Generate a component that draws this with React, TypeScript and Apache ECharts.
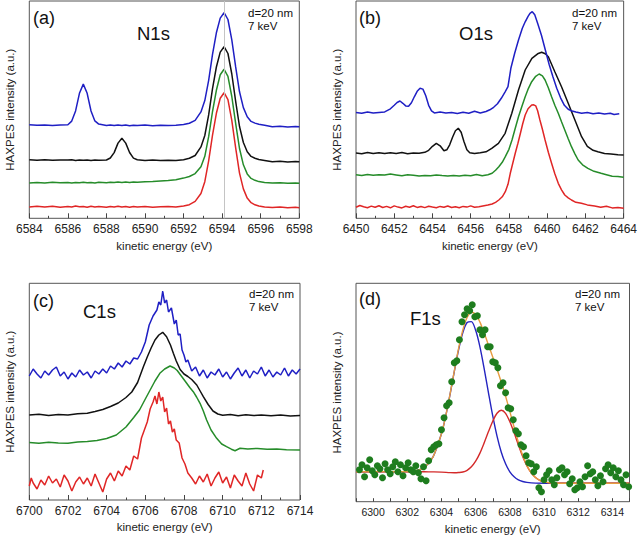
import React, { useEffect, useRef } from "react";
import * as echarts from "echarts";

// ---------- (a) N1s ----------
const n1sBlue: [number, number][] = [
  [6584.0, 93.6], [6584.4, 93.0], [6584.8, 93.4], [6585.2, 92.8], [6585.6, 93.3], [6586.0, 93.5],
  [6586.2, 97.2], [6586.4, 107.4], [6586.6, 125.0], [6586.8, 134.2], [6587.0, 125.0], [6587.2, 107.3],
  [6587.4, 97.4], [6587.6, 94.2], [6588.0, 92.9], [6588.2, 93.4], [6588.4, 92.7], [6588.6, 93.2],
  [6588.8, 92.9], [6589.0, 93.3], [6589.2, 92.6], [6589.4, 93.1], [6589.6, 92.8], [6590.0, 93.2],
  [6590.4, 92.6], [6590.8, 93.0], [6591.2, 92.7], [6591.6, 93.1], [6592.0, 93.7], [6592.3, 95.1],
  [6592.6, 97.9], [6592.9, 106.4], [6593.1, 117.7], [6593.3, 138.0], [6593.5, 164.0], [6593.7, 185.5],
  [6593.9, 200.2], [6594.1, 205.6], [6594.3, 198.8], [6594.5, 178.5], [6594.7, 151.4], [6594.9, 126.5],
  [6595.1, 110.7], [6595.3, 101.6], [6595.5, 96.9], [6595.7, 95.2], [6595.9, 94.0], [6596.2, 93.1],
  [6596.6, 91.6], [6597.0, 92.1], [6597.4, 91.4], [6597.8, 91.9], [6598.0, 91.5],
];
const n1sBlack: [number, number][] = [
  [6584.0, 58.5], [6584.4, 58.1], [6584.8, 58.6], [6585.2, 58.0], [6585.6, 58.4], [6586.0, 58.2],
  [6586.2, 58.5], [6586.4, 57.9], [6586.6, 58.3], [6586.8, 58.0], [6587.0, 58.4], [6587.2, 57.8],
  [6587.4, 58.2], [6587.6, 58.0], [6588.0, 58.3], [6588.2, 60.3], [6588.4, 65.7], [6588.6, 75.2],
  [6588.8, 80.0], [6589.0, 75.2], [6589.2, 65.8], [6589.4, 60.2], [6589.6, 58.6], [6590.0, 57.9],
  [6590.4, 58.2], [6590.8, 57.7], [6591.2, 58.1], [6591.6, 57.8], [6592.0, 58.6], [6592.3, 60.0],
  [6592.6, 62.8], [6592.9, 71.4], [6593.1, 82.8], [6593.3, 103.4], [6593.5, 129.6], [6593.7, 151.3],
  [6593.9, 166.2], [6594.1, 171.6], [6594.3, 164.8], [6594.5, 144.3], [6594.7, 116.9], [6594.9, 91.8],
  [6595.1, 75.8], [6595.3, 66.5], [6595.5, 61.9], [6595.7, 60.1], [6595.9, 58.8], [6596.2, 57.9],
  [6596.6, 56.5], [6597.0, 57.0], [6597.4, 56.4], [6597.8, 56.8], [6598.0, 56.5],
];
const n1sGreen: [number, number][] = [
  [6584.0, 35.3], [6584.4, 35.9], [6584.8, 35.4], [6585.2, 36.0], [6585.6, 35.5], [6586.0, 35.8],
  [6586.2, 35.3], [6586.4, 35.9], [6586.6, 35.6], [6586.8, 36.1], [6587.0, 35.5], [6587.2, 35.9],
  [6587.4, 35.4], [6587.6, 36.0], [6588.0, 35.6], [6588.2, 36.1], [6588.4, 35.7], [6588.6, 36.2],
  [6588.8, 35.8], [6589.0, 36.3], [6589.2, 35.9], [6589.4, 36.4], [6589.6, 36.1], [6590.0, 36.6],
  [6590.4, 36.9], [6590.8, 37.4], [6591.2, 37.8], [6591.6, 38.6], [6592.0, 40.2], [6592.3, 41.8],
  [6592.6, 44.7], [6592.9, 51.6], [6593.1, 62.0], [6593.3, 81.6], [6593.5, 106.8], [6593.7, 128.0],
  [6593.9, 143.5], [6594.1, 149.0], [6594.3, 142.0], [6594.5, 121.8], [6594.7, 94.9], [6594.9, 69.8],
  [6595.1, 53.5], [6595.3, 44.4], [6595.5, 39.9], [6595.7, 38.0], [6595.9, 36.7], [6596.2, 35.9],
  [6596.6, 35.2], [6597.0, 35.6], [6597.4, 35.0], [6597.8, 35.4], [6598.0, 35.0],
];
const n1sRed: [number, number][] = [
  [6584.0, 11.2], [6584.4, 12.1], [6584.8, 11.4], [6585.2, 12.0], [6585.6, 11.0], [6586.0, 11.9],
  [6586.2, 11.3], [6586.4, 12.2], [6586.6, 11.5], [6586.8, 11.9], [6587.0, 11.1], [6587.2, 12.0],
  [6587.4, 11.4], [6587.6, 11.8], [6588.0, 11.0], [6588.2, 11.9], [6588.4, 11.3], [6588.6, 12.1],
  [6588.8, 11.2], [6589.0, 11.7], [6589.2, 11.0], [6589.4, 11.8], [6589.6, 11.3], [6590.0, 11.9],
  [6590.4, 11.1], [6590.8, 11.6], [6591.2, 11.9], [6591.6, 11.4], [6592.0, 12.4], [6592.3, 13.6],
  [6592.6, 16.9], [6592.9, 24.8], [6593.1, 36.6], [6593.3, 57.5], [6593.5, 83.2], [6593.7, 105.0],
  [6593.9, 120.1], [6594.1, 125.6], [6594.3, 118.6], [6594.5, 98.0], [6594.7, 70.4], [6594.9, 45.2],
  [6595.1, 29.4], [6595.3, 20.2], [6595.5, 15.6], [6595.7, 13.5], [6595.9, 12.3], [6596.2, 11.2],
  [6596.6, 10.9], [6597.0, 11.4], [6597.4, 10.5], [6597.8, 11.0], [6598.0, 10.6],
];
const n1sMarker = 6594.1;

// ---------- (b) O1s ----------
const o1sBlue: [number, number][] = [
  [6450.0, 105.8], [6450.3, 105.0], [6450.6, 106.2], [6450.9, 105.3], [6451.2, 105.9], [6451.5, 106.4],
  [6451.8, 109.5], [6452.0, 113.0], [6452.15, 115.8], [6452.3, 117.3], [6452.45, 115.0], [6452.6, 112.4],
  [6452.75, 112.0], [6452.9, 115.5], [6453.05, 121.5], [6453.2, 127.0], [6453.35, 130.0], [6453.5, 129.2],
  [6453.65, 122.5], [6453.8, 113.0], [6453.95, 107.5], [6454.1, 105.4], [6454.4, 106.3], [6454.7, 105.2],
  [6455.0, 105.9], [6455.3, 104.8], [6455.6, 106.0], [6455.9, 105.1], [6456.2, 107.0], [6456.5, 105.3],
  [6456.8, 106.8], [6457.0, 108.5], [6457.2, 111.0], [6457.4, 114.5], [6457.6, 120.0], [6457.8, 126.5],
  [6457.95, 131.6], [6458.1, 150.0], [6458.3, 165.0], [6458.5, 178.3], [6458.7, 190.0], [6458.85, 196.5],
  [6459.0, 202.0], [6459.1, 205.0], [6459.22, 206.6], [6459.35, 203.5], [6459.5, 195.0], [6459.7, 183.0],
  [6459.9, 168.5], [6460.1, 154.0], [6460.3, 141.5], [6460.5, 130.0], [6460.7, 120.5], [6460.9, 113.0],
  [6461.1, 109.0], [6461.3, 107.2], [6461.5, 106.3], [6461.8, 105.0], [6462.1, 105.8], [6462.4, 104.6],
  [6462.7, 105.4], [6463.0, 104.3], [6463.3, 105.0], [6463.5, 103.8], [6463.77, 104.5],
];
const o1sBlack: [number, number][] = [
  [6450.0, 65.3], [6450.3, 64.6], [6450.6, 65.8], [6450.9, 64.8], [6451.2, 65.5], [6451.5, 64.7],
  [6451.8, 65.6], [6452.1, 64.9], [6452.4, 65.7], [6452.7, 64.6], [6453.0, 65.4], [6453.3, 65.0],
  [6453.6, 66.0], [6453.8, 68.0], [6454.0, 72.0], [6454.2, 75.0], [6454.4, 72.5], [6454.6, 67.5],
  [6454.75, 68.5], [6454.9, 73.5], [6455.05, 81.0], [6455.2, 87.5], [6455.35, 90.0], [6455.5, 86.0],
  [6455.65, 76.5], [6455.8, 68.5], [6455.95, 65.5], [6456.2, 64.8], [6456.5, 65.6], [6456.8, 66.5],
  [6457.1, 70.0], [6457.45, 75.0], [6457.8, 85.0], [6458.15, 105.0], [6458.5, 128.3], [6458.85, 148.3],
  [6459.2, 160.0], [6459.5, 164.5], [6459.71, 166.0], [6459.9, 164.5], [6460.06, 161.6], [6460.4, 146.6],
  [6460.75, 131.6], [6461.1, 115.0], [6461.45, 98.3], [6461.8, 81.6], [6462.1, 72.0], [6462.4, 68.0],
  [6462.65, 66.6], [6463.0, 64.8], [6463.34, 64.3], [6463.7, 63.6], [6464.0, 63.3],
];
const o1sGreen: [number, number][] = [
  [6450.0, 43.5], [6450.3, 42.8], [6450.6, 43.9], [6450.9, 43.0], [6451.2, 43.6], [6451.5, 43.2],
  [6451.8, 44.2], [6452.1, 43.4], [6452.4, 42.6], [6452.7, 43.5], [6453.0, 43.0], [6453.3, 42.2],
  [6453.6, 42.9], [6453.9, 42.5], [6454.2, 43.3], [6454.5, 42.7], [6454.8, 42.2], [6455.1, 42.9],
  [6455.4, 42.4], [6455.7, 43.1], [6456.0, 42.6], [6456.3, 43.8], [6456.6, 42.5], [6456.9, 43.5],
  [6457.12, 45.0], [6457.3, 48.0], [6457.47, 51.6], [6457.65, 56.0], [6457.81, 61.6], [6458.0, 69.0],
  [6458.16, 78.3], [6458.33, 90.0], [6458.5, 101.6], [6458.68, 112.0], [6458.85, 121.6], [6459.02, 130.0],
  [6459.19, 136.6], [6459.4, 142.0], [6459.58, 144.3], [6459.75, 142.5], [6459.89, 138.3], [6460.06, 130.5],
  [6460.23, 121.6], [6460.4, 113.0], [6460.58, 105.0], [6460.75, 96.5], [6460.92, 88.3], [6461.1, 79.5],
  [6461.27, 71.6], [6461.45, 64.5], [6461.62, 58.3], [6461.85, 53.5], [6462.13, 50.0], [6462.45, 47.0],
  [6462.82, 45.0], [6463.1, 43.6], [6463.4, 42.0], [6463.7, 41.8], [6464.0, 41.0],
];
const o1sRed: [number, number][] = [
  [6450.0, 11.0], [6450.2, 12.8], [6450.4, 11.5], [6450.6, 10.6], [6450.8, 12.2], [6451.0, 11.0],
  [6451.2, 12.6], [6451.4, 10.8], [6451.6, 11.9], [6451.8, 10.5], [6452.0, 12.4], [6452.2, 11.2],
  [6452.4, 10.4], [6452.6, 12.0], [6452.8, 11.1], [6453.0, 12.5], [6453.2, 10.9], [6453.4, 11.8],
  [6453.6, 10.7], [6453.8, 12.1], [6454.0, 11.3], [6454.2, 10.6], [6454.4, 11.9], [6454.6, 11.0],
  [6454.8, 12.3], [6455.0, 10.8], [6455.2, 11.6], [6455.4, 10.5], [6455.6, 11.9], [6455.8, 11.2],
  [6456.0, 12.4], [6456.2, 11.0], [6456.43, 11.6], [6456.7, 12.6], [6456.9, 13.2], [6457.12, 14.3],
  [6457.3, 16.0], [6457.47, 18.3], [6457.65, 21.5], [6457.81, 26.6], [6457.95, 34.0], [6458.07, 45.0],
  [6458.2, 55.0], [6458.33, 65.0], [6458.47, 75.0], [6458.6, 85.0], [6458.72, 94.5], [6458.85, 103.3],
  [6459.0, 109.5], [6459.19, 113.3], [6459.3, 113.5], [6459.4, 112.5], [6459.5, 107.5], [6459.62, 98.3],
  [6459.75, 89.0], [6459.89, 78.3], [6460.06, 66.0], [6460.23, 55.0], [6460.4, 44.5], [6460.58, 35.0],
  [6460.75, 28.5], [6460.92, 23.3], [6461.1, 20.5], [6461.27, 18.3], [6461.5, 16.0], [6461.79, 15.0],
  [6462.1, 13.4], [6462.48, 12.3], [6462.8, 11.0], [6463.1, 12.1], [6463.4, 10.4], [6463.7, 10.9],
  [6464.0, 10.0],
];

// ---------- (c) C1s ----------
const c1sBlue: [number, number][] = [
  [6700.0, 124], [6700.2, 131], [6700.4, 126], [6700.6, 122], [6700.8, 129], [6701.0, 125],
  [6701.2, 130], [6701.4, 133], [6701.6, 124], [6701.8, 128], [6702.0, 121], [6702.2, 127],
  [6702.4, 123], [6702.6, 130], [6702.8, 125], [6703.0, 128], [6703.2, 122], [6703.4, 129],
  [6703.6, 126], [6703.8, 131], [6704.0, 127], [6704.2, 134], [6704.4, 131], [6704.6, 137],
  [6704.8, 133], [6705.0, 139], [6705.2, 136], [6705.4, 142], [6705.6, 141], [6705.8, 148],
  [6706.0, 158], [6706.2, 175], [6706.4, 184], [6706.6, 190], [6706.7, 198], [6706.8, 195],
  [6706.9, 209], [6707.0, 197], [6707.1, 200], [6707.2, 188], [6707.35, 192], [6707.5, 176],
  [6707.6, 180], [6707.7, 165], [6707.8, 166], [6707.9, 150], [6708.0, 145], [6708.1, 138],
  [6708.2, 140], [6708.4, 129], [6708.6, 133], [6708.8, 124], [6709.0, 130], [6709.2, 122],
  [6709.4, 128], [6709.6, 125], [6709.8, 131], [6710.0, 123], [6710.2, 128], [6710.4, 121],
  [6710.6, 127], [6710.8, 132], [6711.0, 124], [6711.2, 130], [6711.4, 122], [6711.6, 129],
  [6711.8, 126], [6712.0, 133], [6712.2, 124], [6712.4, 130], [6712.6, 123], [6712.8, 128],
  [6713.0, 125], [6713.2, 132], [6713.4, 124], [6713.6, 130], [6713.8, 126], [6714.0, 131],
];
const c1sBlack: [number, number][] = [
  [6700.0, 85.0], [6700.5, 85.8], [6701.0, 84.6], [6701.5, 85.4], [6702.0, 85.0], [6702.5, 86.2],
  [6703.0, 86.8], [6703.4, 88.5], [6703.8, 90.5], [6704.2, 93.5], [6704.6, 97.0], [6705.0, 102.5],
  [6705.3, 108.0], [6705.6, 117.5], [6705.9, 133.3], [6706.1, 143.0], [6706.3, 152.0], [6706.5, 160.0],
  [6706.7, 165.0], [6706.9, 167.7], [6707.1, 163.3], [6707.3, 155.0], [6707.45, 146.7], [6707.6, 139.0],
  [6707.8, 130.5], [6708.0, 126.0], [6708.2, 123.5], [6708.4, 120.5], [6708.66, 115.0], [6708.85, 108.5],
  [6709.0, 103.3], [6709.25, 95.5], [6709.5, 89.0], [6709.75, 86.0], [6710.0, 84.8], [6710.4, 85.5],
  [6710.8, 84.3], [6711.2, 85.2], [6711.6, 84.4], [6712.0, 85.0], [6712.5, 84.2], [6713.0, 84.9],
  [6713.5, 84.1], [6714.0, 84.5],
];
const c1sGreen: [number, number][] = [
  [6700.0, 57.5], [6700.5, 56.8], [6701.0, 57.8], [6701.5, 57.0], [6702.0, 56.8], [6702.5, 58.0],
  [6703.0, 58.6], [6703.5, 59.5], [6704.0, 61.5], [6704.5, 65.0], [6705.0, 73.0], [6705.4, 82.5],
  [6705.7, 90.0], [6706.0, 101.0], [6706.25, 110.0], [6706.5, 119.0], [6706.75, 126.7], [6707.0, 131.0],
  [6707.28, 134.0], [6707.5, 132.0], [6707.65, 129.5], [6707.9, 123.0], [6708.14, 116.7], [6708.3, 112.5],
  [6708.48, 108.3], [6708.65, 103.0], [6708.83, 96.7], [6709.0, 89.0], [6709.17, 80.0], [6709.4, 70.0],
  [6709.69, 61.7], [6709.95, 56.0], [6710.2, 53.3], [6710.45, 50.8], [6710.64, 49.3], [6710.9, 51.7],
  [6711.3, 51.0], [6711.8, 51.6], [6712.3, 50.8], [6712.8, 50.9], [6713.3, 50.3], [6714.0, 50.0],
];
const c1sRed: [number, number][] = [
  [6700.0, 14], [6700.1, 22], [6700.2, 17], [6700.4, 11], [6700.6, 20], [6700.8, 15],
  [6701.0, 24], [6701.2, 17], [6701.4, 21], [6701.6, 13], [6701.8, 25], [6702.0, 19],
  [6702.2, 9], [6702.4, 18], [6702.6, 23], [6702.8, 16], [6703.0, 22], [6703.2, 14],
  [6703.4, 26], [6703.6, 17], [6703.8, 8], [6704.0, 21], [6704.2, 27], [6704.4, 19],
  [6704.6, 29], [6704.8, 24], [6705.0, 34], [6705.2, 30], [6705.4, 44], [6705.6, 41],
  [6705.8, 62], [6705.95, 70], [6706.1, 78], [6706.25, 91], [6706.4, 98], [6706.5, 104],
  [6706.6, 96], [6706.7, 108], [6706.8, 99], [6706.9, 103], [6707.0, 88], [6707.1, 92],
  [6707.2, 76], [6707.3, 79], [6707.4, 68], [6707.5, 71], [6707.6, 60], [6707.75, 57],
  [6707.9, 42], [6708.05, 36], [6708.2, 27], [6708.4, 22], [6708.6, 16], [6708.8, 24],
  [6709.0, 18], [6709.2, 26], [6709.4, 14], [6709.6, 22], [6709.8, 28], [6710.0, 17],
  [6710.2, 23], [6710.4, 12], [6710.6, 25], [6710.8, 19], [6711.0, 14], [6711.2, 27],
  [6711.4, 16], [6711.6, 9], [6711.8, 25], [6712.0, 22], [6712.1, 30],
];

// ---------- (d) F1s ----------
const f1sData: [number, number][] = [
  [6299.2, 32], [6299.35, 37], [6299.5, 25], [6299.65, 34], [6299.8, 42], [6299.95, 31],
  [6300.1, 27], [6300.25, 36], [6300.4, 33], [6300.55, 24], [6300.7, 38], [6300.85, 32],
  [6301.0, 28], [6301.15, 35], [6301.3, 40], [6301.45, 30], [6301.6, 37], [6301.75, 26],
  [6301.9, 34], [6302.05, 39], [6302.2, 32], [6302.35, 30], [6302.5, 36], [6302.65, 29],
  [6302.8, 23], [6302.95, 35], [6303.1, 21], [6303.25, 41], [6303.4, 52], [6303.55, 55],
  [6303.7, 57], [6303.85, 58], [6304.0, 72], [6304.15, 84], [6304.3, 96], [6304.45, 99],
  [6304.6, 120], [6304.75, 139], [6304.9, 141], [6305.05, 162], [6305.2, 180], [6305.35, 187],
  [6305.5, 193], [6305.65, 191], [6305.8, 197], [6305.95, 185], [6306.1, 186], [6306.25, 172],
  [6306.4, 167], [6306.55, 172], [6306.7, 155], [6306.85, 155], [6307.0, 140], [6307.15, 139],
  [6307.3, 134], [6307.45, 116], [6307.6, 119], [6307.75, 109], [6307.9, 94], [6308.05, 93],
  [6308.2, 82], [6308.35, 71], [6308.5, 68], [6308.65, 57], [6308.8, 55], [6308.95, 46],
  [6309.1, 39], [6309.25, 38], [6309.4, 30], [6309.55, 35], [6309.7, 14], [6309.85, 10],
  [6310.0, 22], [6310.15, 27], [6310.3, 31], [6310.45, 22], [6310.6, 17], [6310.75, 24],
  [6310.9, 32], [6311.05, 34], [6311.2, 27], [6311.35, 30], [6311.5, 18], [6311.65, 23],
  [6311.8, 12], [6311.95, 14], [6312.1, 20], [6312.25, 15], [6312.4, 25], [6312.55, 36],
  [6312.7, 28], [6312.85, 30], [6313.0, 22], [6313.15, 16], [6313.3, 26], [6313.45, 20],
  [6313.6, 33], [6313.75, 37], [6313.9, 29], [6314.05, 34], [6314.2, 25], [6314.35, 31],
  [6314.5, 22], [6314.65, 17], [6314.8, 27], [6314.95, 15],
];
const f1sFitBlue: [number, number][] = [
  [6299.0, 30.0], [6302.0, 30.2], [6302.5, 31.0], [6303.0, 34.2], [6303.5, 44.6], [6304.0, 68.0],
  [6304.25, 85.8], [6304.5, 107.1], [6304.75, 130.1], [6305.0, 151.8], [6305.25, 169.2], [6305.5, 179.2],
  [6305.75, 180.1], [6306.0, 171.4], [6306.25, 154.9], [6306.5, 132.9], [6306.75, 108.9], [6307.0, 85.8],
  [6307.25, 65.6], [6307.5, 49.5], [6307.75, 37.9], [6308.0, 29.8], [6308.25, 24.9], [6308.5, 21.8],
  [6308.75, 20.2], [6309.0, 19.3], [6309.5, 18.6], [6310.0, 18.5], [6315.0, 18.5],
];
const f1sFitRed: [number, number][] = [
  [6299.0, 30.0], [6302.0, 30.0], [6303.0, 29.9], [6303.5, 29.8], [6304.0, 29.6], [6304.5, 29.1],
  [6304.75, 29.0], [6305.0, 29.2], [6305.25, 29.7], [6305.5, 31.4], [6305.75, 34.9], [6306.0, 40.5],
  [6306.25, 48.6], [6306.5, 58.9], [6306.75, 70.1], [6307.0, 80.5], [6307.25, 88.4], [6307.5, 91.5],
  [6307.75, 88.4], [6308.0, 79.9], [6308.25, 68.9], [6308.5, 56.7], [6308.75, 45.2], [6309.0, 35.7],
  [6309.25, 28.8], [6309.5, 24.2], [6309.75, 21.3], [6310.0, 19.8], [6310.5, 18.7], [6311.0, 18.5],
  [6315.0, 18.5],
];
const f1sFitSum: [number, number][] = [
  [6299.0, 30.0], [6302.0, 30.2], [6302.5, 31.0], [6303.0, 34.2], [6303.5, 44.6], [6304.0, 68.0],
  [6304.25, 85.9], [6304.5, 107.3], [6304.75, 130.6], [6305.0, 153.0], [6305.25, 171.7], [6305.5, 184.2],
  [6305.75, 189.4], [6306.0, 187.2], [6306.25, 179.6], [6306.5, 168.7], [6306.75, 156.6], [6307.0, 144.6],
  [6307.25, 132.4], [6307.5, 119.5], [6307.75, 105.6], [6308.0, 90.1], [6308.25, 74.5], [6308.5, 59.5],
  [6308.75, 46.5], [6309.0, 36.3], [6309.25, 28.9], [6309.5, 24.2], [6309.75, 21.3], [6310.0, 19.8],
  [6310.5, 18.7], [6311.0, 18.5], [6315.0, 18.5],
];

// ---------- labels ----------
const panelTags = ["(a)", "(b)", "(c)", "(d)"];
const coreLevels = ["N1s", "O1s", "C1s", "F1s"];
const depthNote = "d=20 nm";
const energyNote = "7 keV";
const xName = "kinetic energy (eV)";
const yName = "HAXPES intensity (a.u.)";
const xRanges: [number, number][] = [
  [6584, 6598],
  [6450, 6464],
  [6700, 6714],
  [6299, 6315],
];

const FONT = "'Liberation Sans', Arial, Helvetica, sans-serif";
const C_BLUE = "#1f1fc4";
const C_BLACK = "#111111";
const C_GREEN = "#268c2a";
const C_RED = "#e02626";

export default function App() {
  const ref = useRef<HTMLDivElement>(null);

  useEffect(() => {
    if (!ref.current) return;
    const chart = echarts.init(ref.current, undefined, { renderer: "svg" });

    const grids = [
      { left: 29.3, top: 1, width: 270, height: 217.3 },
      { left: 356, top: 1, width: 270, height: 217.3 },
      { left: 29.3, top: 283.3, width: 270.7, height: 216.7 },
      { left: 356, top: 283.3, width: 273.5, height: 218.4 },
    ];
    const yMax = [217.3, 217.3, 216.7, 218.4];
    const tickFont = [12, 12, 12, 10.5];
    const nameGaps = [22, 22, 21, 21];

    const xAxis = xRanges.map((r, i) => {
      const evenStart = i < 3;
      return {
        type: "value",
        gridIndex: i,
        min: r[0],
        max: r[1],
        interval: evenStart ? 2 : 1,
        name: xName,
        nameLocation: "middle",
        nameGap: nameGaps[i],
        nameTextStyle: { fontSize: 11.5, color: "#222", fontFamily: FONT },
        axisLine: { show: false },
        axisTick: {
          show: true,
          inside: true,
          length: evenStart ? 5 : 3.5,
          lineStyle: { color: "#444", width: 1 },
        },
        minorTick: evenStart
          ? { show: true, splitNumber: 2, length: 2.5, lineStyle: { color: "#444", width: 1 } }
          : { show: false },
        axisLabel: {
          margin: 5,
          fontSize: tickFont[i],
          color: "#222",
          fontFamily: FONT,
          formatter: (v: number) => (Math.round(v) % 2 === 0 ? String(Math.round(v)) : ""),
        },
        splitLine: { show: false },
        minorSplitLine: { show: false },
      };
    });

    const yAxis = yMax.map((m, i) => ({
      type: "value",
      gridIndex: i,
      min: 0,
      max: m,
      name: yName,
      nameLocation: "middle",
      nameGap: 13,
      nameRotate: 90,
      nameTextStyle: { fontSize: 11.5, color: "#222", fontFamily: FONT },
      axisLine: { show: false },
      axisTick: { show: false },
      axisLabel: { show: false },
      splitLine: { show: false },
    }));

    const line = (data: [number, number][], idx: number, color: string, width = 1.5, extra: any = {}) => ({
      type: "line",
      xAxisIndex: idx,
      yAxisIndex: idx,
      data,
      showSymbol: false,
      symbol: "none",
      lineStyle: { color, width },
      itemStyle: { color },
      ...extra,
    });

    const series: any[] = [
      line(n1sRed, 0, C_RED),
      line(n1sGreen, 0, C_GREEN),
      line(n1sBlack, 0, C_BLACK),
      line(n1sBlue, 0, C_BLUE, 1.5, {
        markLine: {
          silent: true,
          symbol: "none",
          label: { show: false },
          lineStyle: { color: "#c4c4c4", width: 1, type: "solid" },
          data: [{ xAxis: n1sMarker }],
        },
      }),
      line(o1sRed, 1, C_RED),
      line(o1sGreen, 1, C_GREEN),
      line(o1sBlack, 1, C_BLACK),
      line(o1sBlue, 1, C_BLUE),
      line(c1sRed, 2, C_RED),
      line(c1sGreen, 2, C_GREEN),
      line(c1sBlack, 2, C_BLACK),
      line(c1sBlue, 2, C_BLUE),
      line(f1sFitBlue, 3, "#2424c0", 1.4, { smooth: 0.3 }),
      line(f1sFitRed, 3, "#d42a2a", 1.4, { smooth: 0.3 }),
      line(f1sFitSum, 3, "#e89c40", 1.4, { smooth: 0.3 }),
      {
        type: "scatter",
        xAxisIndex: 3,
        yAxisIndex: 3,
        data: f1sData,
        symbolSize: 7,
        itemStyle: { color: "#1e7d1e", opacity: 1 },
        z: 3,
      },
    ];

    const txt = (text: string, x: number, y: number, size: number) => ({
      type: "text",
      x,
      y,
      style: {
        text,
        fontSize: size,
        fontFamily: FONT,
        fill: "#111",
        verticalAlign: "middle",
        align: "left",
      },
      z: 10,
    });

    const tagPos = [
      [33, 18],
      [359, 18],
      [33, 300.5],
      [359, 299],
    ];
    const corePos = [
      [137, 33.5],
      [459, 33],
      [83, 311.7],
      [410, 318],
    ];
    const notePos = [
      [248, 12.5, 25.7],
      [572, 12.5, 25.5],
      [249, 294, 307],
      [575, 294, 307],
    ];

    const graphic: any[] = [];
    for (let i = 0; i < 4; i++) {
      graphic.push(txt(panelTags[i], tagPos[i][0], tagPos[i][1], 18));
      graphic.push(txt(coreLevels[i], corePos[i][0], corePos[i][1], 18.5));
      graphic.push(txt(depthNote, notePos[i][0], notePos[i][1], 11.5));
      graphic.push(txt(energyNote, notePos[i][0], notePos[i][2], 11.5));
    }

    chart.setOption({
      animation: false,
      backgroundColor: "#ffffff",
      textStyle: { fontFamily: FONT },
      grid: grids.map((g) => ({
        ...g,
        show: true,
        borderColor: "#555",
        borderWidth: 1,
        backgroundColor: "transparent",
        containLabel: false,
      })),
      xAxis,
      yAxis,
      series,
      graphic,
    });

    return () => chart.dispose();
  }, []);

  return (
    <div
      ref={ref}
      style={{ position: "absolute", left: 0, top: 0, width: 640, height: 539 }}
    />
  );
}
